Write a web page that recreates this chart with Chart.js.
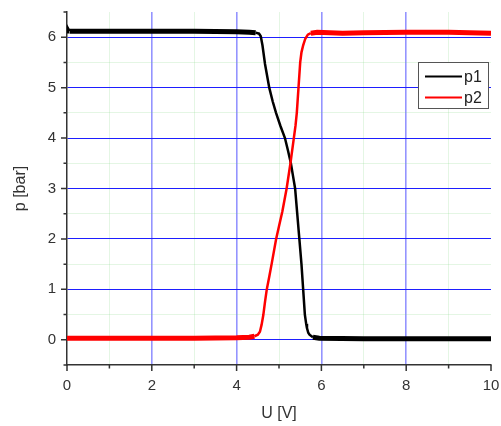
<!DOCTYPE html>
<html><head><meta charset="utf-8">
<script src="https://cdn.jsdelivr.net/npm/chart.js@4.4.1/dist/chart.umd.min.js"></script>
<style>html,body{margin:0;padding:0;background:#fff}#wrap{width:501px;height:426px;position:relative}</style>
</head><body><div id="wrap"><canvas id="c" width="501" height="426"></canvas></div>
<script>
const seriesLabels = ['p1', 'p2'];
const seriesColors = ['#000000', '#ff0000'];
const u1 = [0, 0.02, 0.06, 0.3, 1, 2, 3, 4, 4.3, 4.45, 4.53, 4.57, 4.61, 4.67, 4.77, 4.85, 4.93, 5.03, 5.14, 5.21, 5.28, 5.33, 5.38, 5.43, 5.48, 5.53, 5.57, 5.61, 5.64, 5.66, 5.69, 5.72, 5.8, 5.95, 7, 8, 9, 10];
const p1 = [6.1, 6.18, 6.12, 6.12, 6.12, 6.12, 6.12, 6.11, 6.1, 6.09, 6.07, 6.02, 5.84, 5.47, 5.0, 4.73, 4.5, 4.25, 4.0, 3.76, 3.5, 3.25, 3.0, 2.5, 2.0, 1.5, 1.0, 0.5, 0.32, 0.23, 0.14, 0.1, 0.05, 0.03, 0.02, 0.02, 0.02, 0.02];
const u2 = [0, 1, 2, 3, 4, 4.3, 4.42, 4.5, 4.55, 4.59, 4.63, 4.67, 4.71, 4.77, 4.83, 4.93, 5.0, 5.08, 5.18, 5.27, 5.35, 5.39, 5.42, 5.46, 5.5, 5.53, 5.57, 5.62, 5.68, 5.75, 5.9, 6.5, 7, 8, 9, 10];
const p2 = [0.03, 0.03, 0.03, 0.03, 0.04, 0.05, 0.07, 0.1, 0.16, 0.3, 0.49, 0.75, 0.99, 1.25, 1.52, 1.99, 2.25, 2.55, 3.0, 3.5, 4.0, 4.25, 4.5, 5.0, 5.5, 5.7, 5.84, 5.97, 6.05, 6.08, 6.1, 6.08, 6.09, 6.1, 6.1, 6.08];
const xTickLabels = [0, 2, 4, 6, 8, 10];
const yTickLabels = [0, 1, 2, 3, 4, 5, 6];
const xTitle = 'U [V]';
const yTitle = 'p [bar]';

const FONT = '"Liberation Sans", Arial, sans-serif';
const pts = (xs, ys) => xs.map((x, i) => ({x, y: ys[i]}));

const segWidth = ctx => {
  const dx = Math.abs(ctx.p1.x - ctx.p0.x);
  const dy = Math.abs(ctx.p1.y - ctx.p0.y);
  return dy < 0.25 * dx ? 5 : 2.5;
};

const tickMarks = {
  id: 'tickMarks',
  afterDraw(chart) {
    const {ctx, scales: {x, y}, chartArea: a} = chart;
    ctx.save();
    ctx.strokeStyle = '#333';
    ctx.lineWidth = 1.5;
    ctx.beginPath();
    x.ticks.forEach(t => {
      const px = x.getPixelForValue(t.value);
      const len = xTickLabels.includes(t.value) ? 6 : 3.5;
      ctx.moveTo(px, a.bottom); ctx.lineTo(px, a.bottom + len);
    });
    y.ticks.forEach(t => {
      const py = y.getPixelForValue(t.value);
      const len = yTickLabels.includes(t.value) ? 6 : 3.5;
      ctx.moveTo(a.left, py); ctx.lineTo(a.left - len, py);
    });
    ctx.stroke();
    ctx.restore();
  }
};

const boxLegend = {
  id: 'boxLegend',
  afterDraw(chart) {
    const {ctx, chartArea: a} = chart;
    const right = a.right - 3, top = a.top + 50, w = 70, h = 46;
    const left = right - w;
    ctx.save();
    ctx.fillStyle = '#fff';
    ctx.fillRect(left, top, w, h);
    ctx.strokeStyle = '#555';
    ctx.lineWidth = 1;
    ctx.strokeRect(left + 0.5, top + 0.5, w, h);
    ctx.font = '16px ' + FONT;
    ctx.textBaseline = 'middle';
    chart.data.datasets.forEach((ds, i) => {
      const yy = top + 14.5 + i * 21;
      ctx.strokeStyle = ds.borderColor;
      ctx.lineWidth = 2;
      ctx.beginPath(); ctx.moveTo(left + 7, yy); ctx.lineTo(left + 44, yy); ctx.stroke();
      ctx.fillStyle = '#222';
      ctx.fillText(ds.label, left + 46, yy + 1);
    });
    ctx.restore();
  }
};

new Chart(document.getElementById('c'), {
  type: 'scatter',
  data: {
    datasets: [
      {label: seriesLabels[0], data: pts(u1, p1), borderColor: seriesColors[0], backgroundColor: seriesColors[0], showLine: true, pointRadius: 0, borderWidth: 2.5, tension: 0, order: 2, segment: {borderWidth: segWidth}},
      {label: seriesLabels[1], data: pts(u2, p2), borderColor: seriesColors[1], backgroundColor: seriesColors[1], showLine: true, pointRadius: 0, borderWidth: 2.5, tension: 0, order: 1, segment: {borderWidth: segWidth}}
    ]
  },
  options: {
    responsive: false,
    animation: false,
    layout: {padding: {left: 4, right: 10, top: 12, bottom: 0}},
    plugins: {legend: {display: false}, tooltip: {enabled: false}},
    scales: {
      x: {
        type: 'linear', min: 0, max: 10,
        afterFit: s => { s.height = 61; s.paddingLeft = 0; s.paddingRight = 0; },
        ticks: {stepSize: 1, autoSkip: false, maxRotation: 0, padding: 12, color: '#333',
          font: {family: FONT, size: 15},
          callback: v => xTickLabels.includes(v) ? String(v) : ''},
        grid: {drawTicks: false,
          color: c => { const v = c.tick ? c.tick.value : -1; if (v <= 0 || v >= 10) return 'rgba(0,0,0,0)'; return v % 2 === 0 ? 'rgba(60,60,255,0.55)' : 'rgba(120,210,120,0.2)'; },
          lineWidth: c => { const v = c.tick ? c.tick.value : -1; return v % 2 === 0 ? 1.6 : 1; }},
        border: {color: '#333', width: 1.5},
        title: {display: true, text: xTitle, color: '#333', font: {family: FONT, size: 16}, padding: {top: 0, bottom: 3}}
      },
      y: {
        type: 'linear', min: -0.5, max: 6.5,
        afterFit: s => { s.width = 63; s.paddingTop = 0; s.paddingBottom = 0; },
        ticks: {stepSize: 0.5, autoSkip: false, padding: 11, color: '#333',
          font: {family: FONT, size: 15},
          callback: v => yTickLabels.includes(v) ? String(v) : ''},
        grid: {drawTicks: false,
          color: c => { const v = c.tick ? c.tick.value : -9; if (v < 0 || v > 6) return 'rgba(0,0,0,0)'; return Number.isInteger(v) ? 'rgb(30,30,255)' : 'rgba(120,210,120,0.2)'; },
          lineWidth: 1},
        border: {color: '#333', width: 1.5},
        title: {display: true, text: yTitle, color: '#333', font: {family: FONT, size: 16}, padding: {top: 7, bottom: 0}}
      }
    }
  },
  plugins: [tickMarks, boxLegend]
});
</script>
</body></html>
